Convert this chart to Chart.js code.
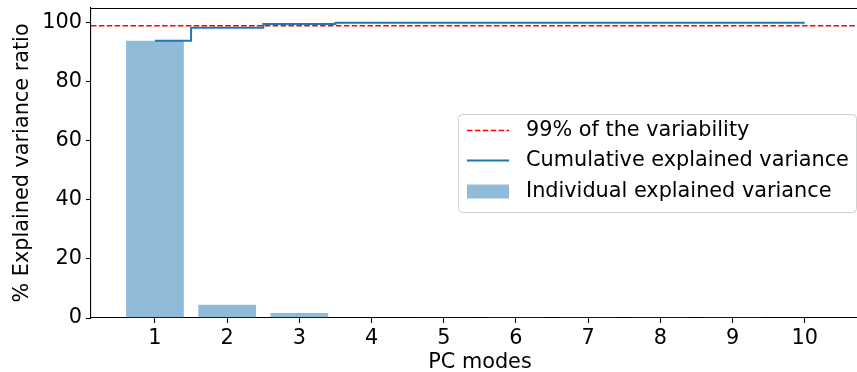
<!DOCTYPE html>
<html>
<head>
<meta charset="utf-8">
<script src="https://cdn.jsdelivr.net/npm/chart.js@4"></script>
<style>
  html, body { margin: 0; padding: 0; background: #fff; overflow: hidden; }
  #wrap { width: 870px; height: 372px; position: relative; }
</style>
</head>
<body>
<div id="wrap"><canvas id="c"></canvas></div>
<script>
// ---- data ----
const pcModes = [1, 2, 3, 4, 5, 6, 7, 8, 9, 10];
const individualVariance = [93.9, 4.5, 1.7, 0.2, 0.05, 0.03, 0.02, 0.01, 0.01, 0.0];
const cumulativeVariance = [93.9, 98.3, 99.6, 100.0, 100.0, 100.0, 100.0, 100.0, 100.0, 100.0];
const thresholdValue = 99;
const yTickValues = [0, 20, 40, 60, 80, 100];
const xTickValues = [1, 2, 3, 4, 5, 6, 7, 8, 9, 10];
const seriesLabels = ['99% of the variability', 'Cumulative explained variance', 'Individual explained variance'];
const axisTitles = { x: 'PC modes', y: '% Explained variance ratio' };

// axis limits (matplotlib auto-margins)
const X_MIN = 0.114, X_MAX = 10.89, Y_MIN = 0, Y_MAX = 105;

const FONT = 'DejaVu Sans';
const FS = 20.8;

const topSpine = {
  id: 'topSpine',
  afterDraw(chart) {
    const { ctx, chartArea: a } = chart;
    ctx.save();
    ctx.strokeStyle = '#000';
    ctx.lineWidth = 1.1;
    ctx.beginPath();
    ctx.moveTo(a.left, a.top + 0.5);
    ctx.lineTo(a.right, a.top + 0.5);
    ctx.moveTo(a.right - 0.5, a.top);
    ctx.lineTo(a.right - 0.5, a.bottom);
    ctx.stroke();
    ctx.restore();
  }
};

const legendBox = {
  id: 'legendBox',
  afterDraw(chart) {
    const { ctx } = chart;
    const x0 = 458.5, y0 = 114.5, w = 398, h = 98;
    ctx.save();
    const r = 4;
    ctx.beginPath();
    ctx.moveTo(x0 + r, y0);
    ctx.lineTo(x0 + w - r, y0);
    ctx.quadraticCurveTo(x0 + w, y0, x0 + w, y0 + r);
    ctx.lineTo(x0 + w, y0 + h - r);
    ctx.quadraticCurveTo(x0 + w, y0 + h, x0 + w - r, y0 + h);
    ctx.lineTo(x0 + r, y0 + h);
    ctx.quadraticCurveTo(x0, y0 + h, x0, y0 + h - r);
    ctx.lineTo(x0, y0 + r);
    ctx.quadraticCurveTo(x0, y0, x0 + r, y0);
    ctx.closePath();
    ctx.fillStyle = 'rgba(255,255,255,0.8)';
    ctx.fill();
    ctx.strokeStyle = '#d0d0d0';
    ctx.lineWidth = 1;
    ctx.stroke();

    const hx0 = 467, hx1 = 509, tx = 526;
    const rows = [130.5, 160.5, 191.5];
    ctx.strokeStyle = 'red';
    ctx.lineWidth = 1.5;
    ctx.setLineDash([5.5, 2.4]);
    ctx.beginPath(); ctx.moveTo(hx0, rows[0]); ctx.lineTo(hx1, rows[0]); ctx.stroke();
    ctx.setLineDash([]);
    ctx.strokeStyle = '#1f77b4';
    ctx.lineWidth = 2;
    ctx.beginPath(); ctx.moveTo(hx0, rows[1]); ctx.lineTo(hx1, rows[1]); ctx.stroke();
    ctx.fillStyle = 'rgba(31,119,180,0.5)';
    ctx.fillRect(hx0, rows[2] - 7, hx1 - hx0, 14);

    ctx.fillStyle = '#000';
    ctx.font = FS + 'px "' + FONT + '"';
    ctx.textBaseline = 'middle';
    ctx.textAlign = 'left';
    seriesLabels.forEach((t, i) => ctx.fillText(t, tx, rows[i]));
    ctx.restore();
  }
};

new Chart(document.getElementById('c'), {
  type: 'bar',
  data: {
    datasets: [
      {
        type: 'line',
        label: seriesLabels[0],
        data: [{ x: X_MIN, y: thresholdValue }, { x: X_MAX, y: thresholdValue }],
        borderColor: 'red',
        borderWidth: 1.5,
        borderDash: [5.5, 2.4],
        pointRadius: 0,
        fill: false,
        order: 0
      },
      {
        type: 'line',
        label: seriesLabels[1],
        data: pcModes.map((m, i) => ({ x: m, y: cumulativeVariance[i] })),
        borderColor: '#1f77b4',
        borderWidth: 2,
        stepped: 'middle',
        pointRadius: 0,
        fill: false,
        order: 1
      },
      {
        type: 'bar',
        label: seriesLabels[2],
        data: pcModes.map((m, i) => ({ x: m, y: individualVariance[i] })),
        backgroundColor: 'rgba(31,119,180,0.5)',
        borderWidth: 0,
        barPercentage: 0.8,
        categoryPercentage: 1.0,
        order: 2
      }
    ]
  },
  options: {
    responsive: true,
    maintainAspectRatio: false,
    animation: false,
    devicePixelRatio: 1,
    layout: { padding: { top: 8, right: 1, left: 0, bottom: 0 } },
    plugins: {
      legend: { display: false },
      tooltip: { enabled: false }
    },
    scales: {
      x: {
        type: 'linear',
        min: X_MIN,
        max: X_MAX,
        offset: false,
        afterBuildTicks(s) { s.ticks = xTickValues.map(v => ({ value: v })); },
        afterFit(s) { s.height = 54; s.paddingLeft = 0; s.paddingRight = 0; },
        grid: { display: true, offset: false, drawOnChartArea: false, drawTicks: true, tickLength: 5, tickColor: '#000', tickWidth: 1.1 },
        border: { display: true, color: '#000', width: 1.1 },
        ticks: { color: '#000', font: { family: FONT, size: FS }, padding: 3, maxRotation: 0, autoSkip: false },
        title: { display: true, text: axisTitles.x, color: '#000', font: { family: FONT, size: FS }, padding: { top: 0, bottom: -3 } }
      },
      y: {
        type: 'linear',
        min: Y_MIN,
        max: Y_MAX,
        afterBuildTicks(s) { s.ticks = yTickValues.map(v => ({ value: v })); },
        afterFit(s) { s.width = 91; s.paddingTop = 0; s.paddingBottom = 0; },
        grid: { display: true, drawOnChartArea: false, drawTicks: true, tickLength: 5, tickColor: '#000', tickWidth: 1.1 },
        border: { display: true, color: '#000', width: 1.1 },
        ticks: { color: '#000', font: { family: FONT, size: FS }, padding: 4 },
        title: { display: true, text: axisTitles.y, color: '#000', font: { family: FONT, size: FS }, padding: { top: 10, bottom: 4 } }
      }
    }
  },
  plugins: [topSpine, legendBox]
});
</script>
</body>
</html>
